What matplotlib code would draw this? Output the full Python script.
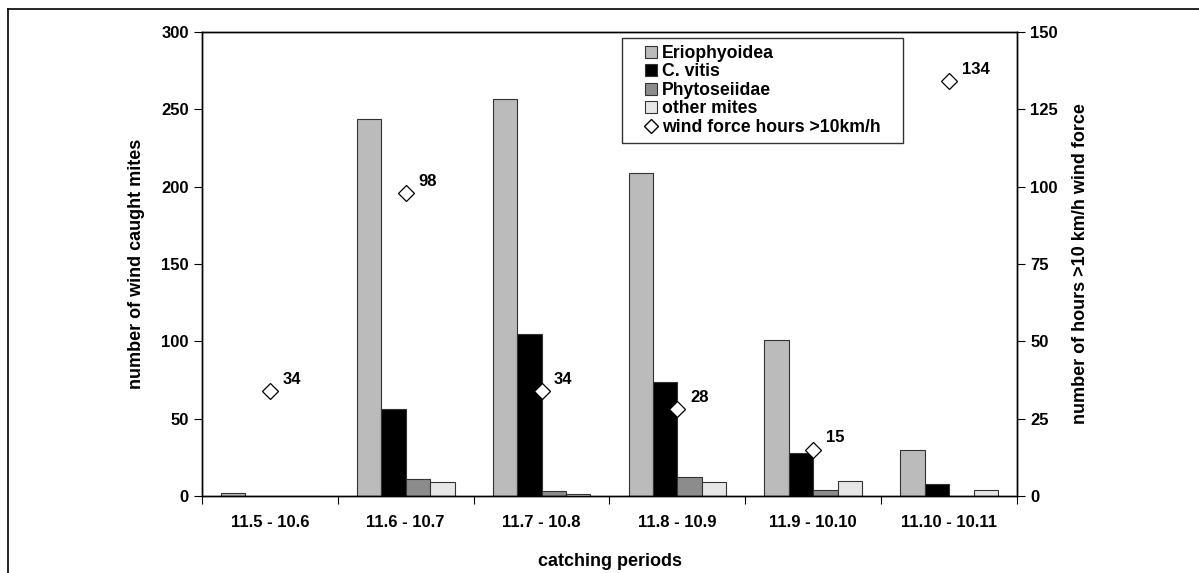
import numpy as np
import matplotlib.pyplot as plt
from matplotlib.lines import Line2D

plt.rcParams['font.family'] = ['Liberation Sans', 'DejaVu Sans']
plt.rcParams['font.weight'] = 'bold'

periods = ["11.5 - 10.6", "11.6 - 10.7", "11.7 - 10.8",
           "11.8 - 10.9", "11.9 - 10.10", "11.10 - 10.11"]
eriophyoidea = [2, 244, 257, 209, 101, 30]
c_vitis = [0, 56, 105, 74, 28, 8]
phytoseiidae = [0, 11, 3, 12, 4, 0]
other_mites = [0, 9, 1, 9, 10, 4]
wind_hours = [34, 98, 34, 28, 15, 134]

series = [
    ("Eriophyoidea", eriophyoidea, "#bbbbbb"),
    ("C. vitis", c_vitis, "#000000"),
    ("Phytoseiidae", phytoseiidae, "#8c8c8c"),
    ("other mites", other_mites, "#e6e6e6"),
]

fig = plt.figure(figsize=(11.99, 5.73), dpi=100)
ax = fig.add_axes([202 / 1199, 1 - 496 / 573, 815 / 1199, 464 / 573])
ax2 = ax.twinx()

x = np.arange(len(periods))
w = 0.18
for i, (name, vals, col) in enumerate(series):
    ax.bar(x + (i - 1.5) * w, vals, w, color=col, edgecolor="#333333",
           linewidth=0.8, label=name, zorder=2)

ax2.plot(x, wind_hours, linestyle="none", marker="D", markersize=8,
         markerfacecolor="white", markeredgecolor="black",
         markeredgewidth=0.9, zorder=3)
for xi, v in zip(x, wind_hours):
    ax2.annotate(str(v), (xi, v), xytext=(9, 3), textcoords="offset points",
                 fontsize=12, fontweight="bold", va="bottom", ha="left")

ax.set_xlim(-0.5, len(periods) - 0.5)
ax.set_ylim(0, 300)
ax2.set_ylim(0, 150)
ax.set_yticks(np.arange(0, 301, 50))
ax2.set_yticks(np.arange(0, 151, 25))

ax.set_xticks(np.arange(-0.5, len(periods), 1.0))
ax.set_xticklabels([])
ax.set_xticks(x, minor=True)
ax.set_xticklabels(periods, minor=True)
ax.tick_params(axis="x", which="major", length=6, direction="out")
ax.tick_params(axis="x", which="minor", length=0, pad=14, labelsize=12)
ax.tick_params(axis="y", length=6, direction="out", labelsize=12)
ax2.tick_params(axis="y", length=6, direction="out", labelsize=12)

for a in (ax, ax2):
    for s in a.spines.values():
        s.set_linewidth(1.0)
        s.set_color("black")

ax.set_ylabel("number of wind caught mites", fontsize=13, fontweight="bold",
              labelpad=12)
ax2.set_ylabel("number of hours >10 km/h wind force", fontsize=13,
               fontweight="bold", labelpad=10)
ax.set_xlabel("catching periods", fontsize=13, fontweight="bold", labelpad=16)

# legend: square markers as handles, shifted right like the original
handles = [Line2D([], [], linestyle="none", marker="s", markersize=9,
                  markerfacecolor=col, markeredgecolor="#333333",
                  markeredgewidth=0.8) for _, _, col in series]
labels = [name for name, _, _ in series]
handles.append(Line2D([], [], linestyle="none", marker="D", markersize=7,
                      markerfacecolor="white", markeredgecolor="black"))
labels.append("wind force hours >10km/h   ")
leg = ax2.legend(handles, labels, loc="upper left",
                 bbox_to_anchor=(0.515, 0.987), borderaxespad=0,
                 fontsize=12.7, frameon=True, fancybox=False,
                 edgecolor="black", handlelength=2.5, handletextpad=-0.6,
                 labelspacing=0.08, borderpad=0.4)
leg.get_frame().set_linewidth(1.0)

# frame around the figure (only top and left visible in the original)
fig.add_artist(Line2D([8 / 1199, 1], [1 - 9 / 573, 1 - 9 / 573],
                      color="black", linewidth=1.2))
fig.add_artist(Line2D([8 / 1199, 8 / 1199], [0, 1 - 9 / 573],
                      color="black", linewidth=1.2))

fig.savefig("out.png", dpi=100)
